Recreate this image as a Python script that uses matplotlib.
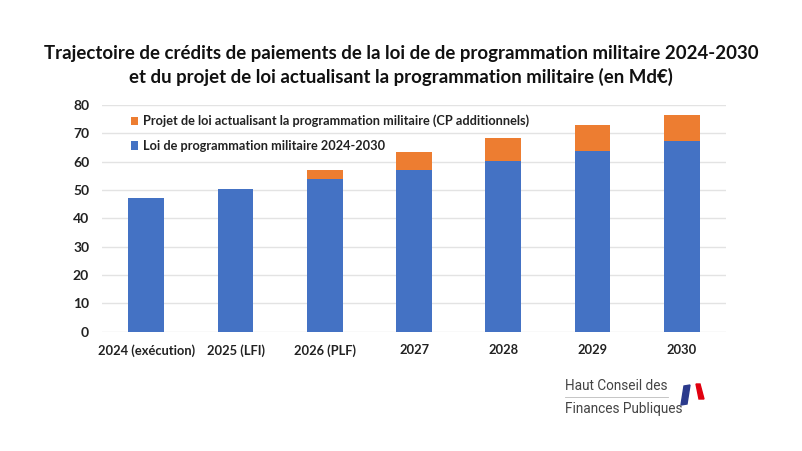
import matplotlib
matplotlib.use("Agg")
import matplotlib.pyplot as plt
from matplotlib.patches import Polygon
from matplotlib.lines import Line2D
from matplotlib import font_manager

categories = ["2024 (exécution)", "2025 (LFI)", "2026 (PLF)", "2027", "2028", "2029", "2030"]
lpm_values = [47.2, 50.5, 53.8, 56.9, 60.3, 63.9, 67.3]
total_values = [47.2, 50.5, 57.2, 63.4, 68.4, 72.8, 76.4]
extra_values = [t - b for t, b in zip(total_values, lpm_values)]
yticks = [0, 10, 20, 30, 40, 50, 60, 70, 80]

label_lpm = "Loi de programmation militaire 2024-2030"
label_extra = "Projet de loi actualisant la programmation militaire (CP additionnels)"
title = ("Trajectoire de crédits de paiements de la loi de de programmation militaire 2024-2030\n"
         "et du projet de loi actualisant la programmation militaire (en Md€)")

blue = "#4472C4"
orange = "#ED7D31"

plt.rcParams['font.family'] = ['Lato', 'DejaVu Sans']

installed = {f.name for f in font_manager.fontManager.ttflist}
logo_family = 'Liberation Sans Narrow' if 'Liberation Sans Narrow' in installed else 'Roboto'
logo_size = 11.5 if logo_family == 'Liberation Sans Narrow' else 9.8

fig = plt.figure(figsize=(8.02, 4.51), dpi=100)
ax = fig.add_axes([0.1268, 0.2645, 0.779, 0.5027])

x = list(range(len(categories)))
b1 = ax.bar(x, lpm_values, width=0.40, color=blue, zorder=3, label=label_lpm)
b2 = ax.bar(x, extra_values, width=0.40, bottom=lpm_values, color=orange, zorder=3, label=label_extra)

ax.set_xlim(-0.5, 6.5)
ax.set_ylim(0, 80)
ax.set_yticks(yticks)
ax.set_xticks(x)
ax.set_xticklabels(categories, fontsize=9.3, fontweight='bold', color='#222222')
ax.tick_params(axis='y', labelsize=10, colors='#222222', length=0, pad=9)
ax.tick_params(axis='x', length=0, pad=9)
for lab in ax.get_yticklabels():
    lab.set_fontweight('bold')
ax.grid(axis='y', color='#E3E3E3', linewidth=1, zorder=0)
for s in ax.spines.values():
    s.set_visible(False)

leg = ax.legend(handles=[b2, b1], loc='upper left', bbox_to_anchor=(0.031, 1.0),
                frameon=False, fontsize=9.2, handlelength=0.6, handleheight=0.6,
                handletextpad=0.35, labelspacing=1.0, borderaxespad=0.35)
for t in leg.get_texts():
    t.set_fontweight('bold')
    t.set_color('#222222')

fig.text(0.5, 0.855, title, ha='center', va='center', fontsize=13.4,
         fontweight='bold', color='#111111', linespacing=1.35)

# logo
fig.text(565 / 802, 1 - 386 / 451, "Haut Conseil des", ha='left', va='center',
         fontsize=logo_size, color='#444444', family=[logo_family, 'DejaVu Sans'])
fig.text(565 / 802, 1 - 409 / 451, "Finances Publiques", ha='left', va='center',
         fontsize=logo_size, color='#444444', family=[logo_family, 'DejaVu Sans'])
fig.add_artist(Line2D([565 / 802, 668 / 802], [1 - 397 / 451, 1 - 397 / 451],
                      color='#BBBBBB', linewidth=0.6))

def P(px, py):
    return (px / 802, 1 - py / 451)

fig.add_artist(Polygon([P(684, 386), P(690, 385), P(687, 404), P(681, 405)],
                       closed=True, color='#2B3A8C', transform=fig.transFigure))
fig.add_artist(Polygon([P(696, 384), P(700, 384), P(704, 399), P(699, 399)],
                       closed=True, color='#E1000F', transform=fig.transFigure))

fig.savefig("out.png", dpi=100)
